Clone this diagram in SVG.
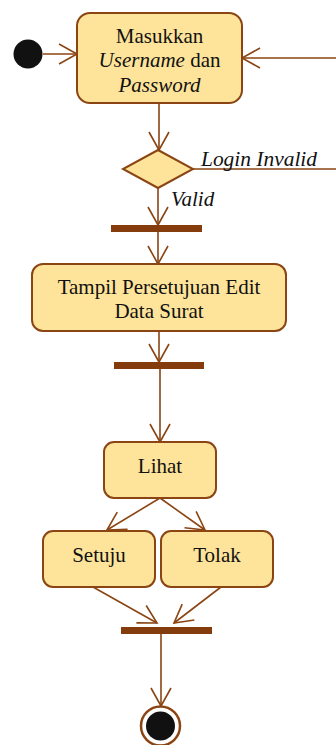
<svg xmlns="http://www.w3.org/2000/svg" width="336" height="745" viewBox="0 0 336 745">
<style>
.node{fill:#FEE49A;stroke:#8B4513;stroke-width:2}
.bar{fill:#843C0C}
.edge{fill:none;stroke:#8B4513;stroke-width:1.6}
.head{fill:none;stroke:#8B4513;stroke-width:1.6}
text{font-family:'Times New Roman','Liberation Serif',Tinos,'DejaVu Serif',serif;font-size:21px;fill:#111}
.it{font-style:italic}
</style>
<defs>
<marker id="arr" viewBox="-20 -12 22 24" markerWidth="22" markerHeight="24" refX="0" refY="0" orient="auto" markerUnits="userSpaceOnUse">
<path d="M-18,-10 L0,0 L-18,10" class="head"/>
</marker>
</defs>
<g id="connectors">
<line class="edge" x1="43" y1="54" x2="77" y2="54" marker-end="url(#arr)"/>
<path class="edge" d="M193,169 L345,169 L345,58 L242,58" marker-end="url(#arr)"/>
<line class="edge" x1="159" y1="103" x2="159" y2="150" marker-end="url(#arr)"/>
<line class="edge" x1="158" y1="188" x2="158" y2="225" marker-end="url(#arr)"/>
<line class="edge" x1="158" y1="232" x2="158" y2="264" marker-end="url(#arr)"/>
<line class="edge" x1="159" y1="331" x2="159" y2="362" marker-end="url(#arr)"/>
<line class="edge" x1="160" y1="369" x2="160" y2="442" marker-end="url(#arr)"/>
<line class="edge" x1="160" y1="498" x2="107" y2="530" marker-end="url(#arr)"/>
<line class="edge" x1="160" y1="498" x2="205" y2="530" marker-end="url(#arr)"/>
<line class="edge" x1="93" y1="587" x2="157" y2="623" marker-end="url(#arr)"/>
<line class="edge" x1="221" y1="587" x2="174" y2="623" marker-end="url(#arr)"/>
<line class="edge" x1="161" y1="634" x2="161" y2="706" marker-end="url(#arr)"/>
<text x="201" y="166" class="it" textLength="116" lengthAdjust="spacingAndGlyphs">Login Invalid</text>
<text x="171" y="206" class="it">Valid</text>
</g>
<g id="start"><circle cx="28" cy="54" r="14.5" fill="#111"/></g>
<g id="masukkan">
<rect class="node" x="77" y="13" width="165" height="90" rx="13"/>
<text x="159.5" y="43" text-anchor="middle">Masukkan</text>
<text x="159.5" y="67" text-anchor="middle"><tspan class="it">Username</tspan> dan</text>
<text x="159.5" y="92" text-anchor="middle" class="it">Password</text>
</g>
<g id="decision"><polygon class="node" points="158,150 193,169 158,188 123,169"/></g>
<g id="fork1"><rect class="bar" x="111" y="225" width="91" height="7"/></g>
<g id="tampil">
<rect class="node" x="32" y="264" width="254" height="67" rx="11"/>
<text x="159" y="294" text-anchor="middle">Tampil Persetujuan Edit</text>
<text x="159" y="318" text-anchor="middle">Data Surat</text>
</g>
<g id="fork2"><rect class="bar" x="114" y="362" width="90" height="7"/></g>
<g id="lihat">
<rect class="node" x="104" y="442" width="112" height="56" rx="10"/>
<text x="160" y="473" text-anchor="middle">Lihat</text>
</g>
<g id="setuju">
<rect class="node" x="43" y="531" width="112" height="56" rx="10"/>
<text x="99" y="562" text-anchor="middle">Setuju</text>
</g>
<g id="tolak">
<rect class="node" x="161" y="531" width="112" height="56" rx="10"/>
<text x="217" y="562" text-anchor="middle">Tolak</text>
</g>
<g id="join"><rect class="bar" x="121" y="627" width="91" height="7"/></g>
<g id="end">
<circle cx="160.5" cy="726" r="19.5" fill="#fff" stroke="#8B4513" stroke-width="2.5"/>
<circle cx="160.5" cy="726" r="14.5" fill="#111"/>
</g>
</svg>
